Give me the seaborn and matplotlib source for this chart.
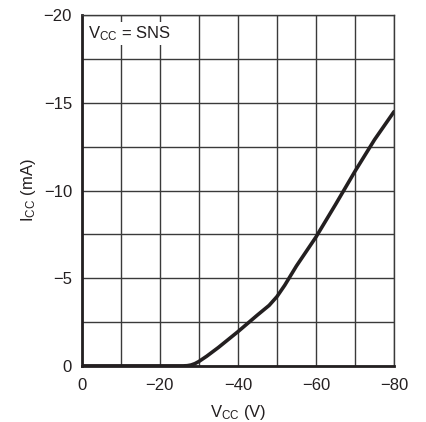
import numpy as np
import pandas as pd
import matplotlib.pyplot as plt
import seaborn as sns

# Dados da curva ICC x VCC
vcc = [0, -10, -20, -26, -27, -28, -29, -30, -32, -35, -40, -45, -48, -50, -52, -55, -60,
       -65, -70, -75, -80]
icc = [0, 0, 0, 0, -0.01, -0.05, -0.13, -0.25, -0.55, -1.05, -1.95, -2.9, -3.45, -3.95,
       -4.6, -5.7, -7.35, -9.2, -11.1, -12.9, -14.5]

x_ticks = [0, -20, -40, -60, -80]
y_ticks = [0, -5, -10, -15, -20]

df = pd.DataFrame({'vcc': vcc, 'icc': icc})

sns.set_style("white")
plt.rcParams['font.family'] = ['Liberation Sans Narrow', 'Liberation Sans', 'DejaVu Sans']

fig = plt.figure(figsize=(4.26, 4.22), dpi=100)
ax = fig.add_axes([0.192, 0.133, 0.733, 0.831])

sns.lineplot(data=df, x='vcc', y='icc', ax=ax, color='#231f20', linewidth=2.6)

ax.set_xlim(0, -80)
ax.set_ylim(0, -20)
ax.set_xticks(np.arange(0, -81, -10), minor=True)
ax.set_yticks(np.arange(0, -20.1, -2.5), minor=True)
ax.set_xticks(x_ticks)
ax.set_yticks(y_ticks)
ax.set_xticklabels(['0' if v == 0 else '\u2212%d' % -v for v in x_ticks])
ax.set_yticklabels(['0' if v == 0 else '\u2212%d' % -v for v in y_ticks])
ax.grid(True, which='both', color='#3a3a3a', linewidth=1.0)
ax.tick_params(length=0, labelsize=12, colors='#231f20')
ax.tick_params(axis='x', pad=9)
ax.tick_params(axis='y', pad=7)

for side in ['top', 'right']:
    ax.spines[side].set_color('#3a3a3a')
    ax.spines[side].set_linewidth(1.0)
for side in ['left', 'bottom']:
    ax.spines[side].set_color('#231f20')
    ax.spines[side].set_linewidth(2.0)

ax.set_xlabel(r'V$\mathregular{_{CC}}$ (V)', fontsize=12, color='#231f20', labelpad=7)
ax.set_ylabel(r'I$\mathregular{_{CC}}$ (mA)', fontsize=12, color='#231f20', labelpad=4)

ax.text(-1.5, -18.95, r'V$\mathregular{_{CC}}$ = SNS', fontsize=12, color='#231f20',
        va='center', ha='left',
        bbox=dict(facecolor='white', edgecolor='none', pad=1.5))

fig.savefig('out.png', dpi=100)
